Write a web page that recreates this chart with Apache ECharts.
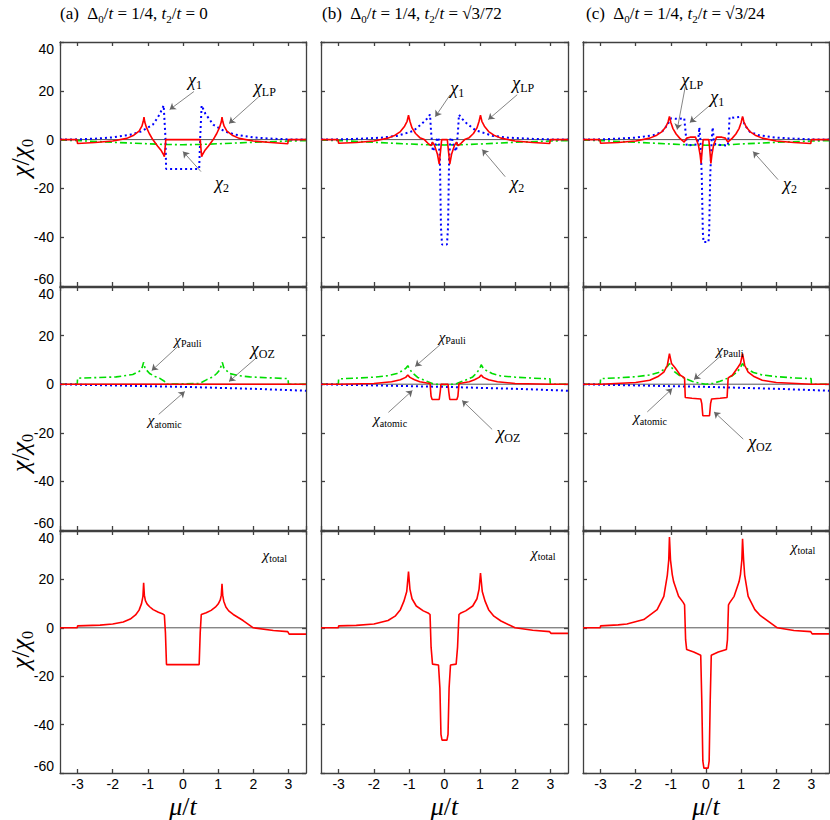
<!DOCTYPE html>
<html lang="en">
<head>
<meta charset="UTF-8">
<title>Susceptibility panels</title>
<script src="https://cdn.jsdelivr.net/npm/echarts/dist/echarts.min.js"></script>
<style>
  html, body { margin: 0; padding: 0; background: #fff; }
  #main { width: 830px; height: 820px; }
</style>
</head>
<body>
<div id="main"></div>
<script>
// ---- data: [mu/t, chi/chi0] ----
var zeroLine = [[-3.5, 0], [3.5, 0]];

// top row: chi_LP (red), chi_1 (blue), chi_2 (green)
var lpA = [[-3.5,0],[-3.02,0],[-3,-1.6],[-2.5,-1.2],[-2,-0.6],[-1.6,0.5],[-1.4,1.8],[-1.25,3.5],[-1.17,5.5],[-1.13,7.5],[-1.11,9.2],[-1.09,7.3],[-1.04,5],[-0.96,2.5],[-0.86,0],[-0.72,-2.7],[-0.62,-4.5],[-0.56,-6],[-0.53,-7],[-0.51,-3.5],[-0.49,0],
           [0.49,0],[0.51,-3.5],[0.53,-7],[0.56,-6],[0.62,-4.5],[0.72,-2.7],[0.86,0],[0.96,2.5],[1.04,5],[1.09,7.3],[1.11,9.2],[1.13,7.5],[1.17,5.5],[1.25,3.5],[1.4,1.8],[1.6,0.5],[2,-0.6],[2.5,-1.2],[2.98,-1.7],[3,0],[3.5,0]];
var c1A = [[-3.5,0],[-3,0.1],[-2.5,0.4],[-2,0.9],[-1.5,2],[-1.2,3.3],[-1.06,4.4],[-0.86,6.1],[-0.76,8.2],[-0.66,10.5],[-0.55,14],[-0.5,1],[-0.48,-12],
           [0.46,-12],[0.49,1],[0.53,14],[0.64,10.5],[0.76,8.2],[0.86,6.1],[1.06,4.4],[1.2,3.3],[1.5,2],[2,0.9],[2.5,0.4],[3,0.1],[3.5,0]];
var c2A = [[-3.5,-0.2],[-3,-0.4],[-2,-1.1],[-1,-1.7],[-0.5,-2],[0,-2.1],[0.5,-2],[1,-1.7],[2,-1.1],[3,-0.6],[3.5,-0.4]];

var lpB = [[-3.5,0],[-3.02,0],[-3,-1.5],[-2.5,-1.2],[-2,-0.6],[-1.6,0.6],[-1.4,1.8],[-1.25,3.3],[-1.13,5.5],[-1.06,7.5],[-1.02,10],[-0.98,7.5],[-0.92,4.8],[-0.82,2.5],[-0.7,0.8],[-0.57,0],[-0.45,-1.8],[-0.38,-2.5],[-0.34,-1],[-0.28,-2.5],[-0.2,-6],[-0.15,-10],[-0.1,-3],[-0.08,0],
           [0.08,0],[0.1,-3],[0.15,-10],[0.2,-6],[0.28,-2.5],[0.34,-1],[0.38,-2.5],[0.45,-1.8],[0.57,0],[0.7,0.8],[0.82,2.5],[0.92,4.8],[0.98,7.5],[1.02,10],[1.06,7.5],[1.13,5.5],[1.25,3.3],[1.4,1.8],[1.6,0.6],[2,-0.6],[2.5,-1.2],[2.98,-1.6],[3,0],[3.5,0]];
var c1B = [[-3.5,0],[-3,0.1],[-2.5,0.3],[-1.8,0.8],[-1.35,1.5],[-1,3],[-0.88,3.6],[-0.64,6.5],[-0.5,8.5],[-0.41,10.3],[-0.38,3],[-0.33,-4.8],[-0.27,-3],[-0.21,0.5],[-0.17,0.8],[-0.13,-8],[-0.1,-36],[-0.07,-43],
           [0.07,-43],[0.1,-36],[0.13,-8],[0.17,0.8],[0.21,0.5],[0.27,-3],[0.33,-4.8],[0.38,3],[0.41,10.2],[0.5,8.5],[0.64,6.5],[0.88,3.8],[1,3.3],[1.35,1.6],[1.8,0.8],[2.5,0.3],[3,0.1],[3.5,0]];
var c2B = [[-3.5,-0.2],[-3,-0.4],[-2,-1.1],[-1,-1.8],[-0.5,-2.1],[0,-2.2],[0.5,-2.1],[1,-1.8],[2,-1.1],[3,-0.6],[3.5,-0.4]];

var lpC = [[-3.5,0],[-3.02,0],[-3,-1.5],[-2.5,-1.2],[-2,-0.6],[-1.6,0.6],[-1.4,1.8],[-1.25,3.3],[-1.14,5.3],[-1.08,7.2],[-1.04,9.5],[-1,7],[-0.94,4.5],[-0.85,2.3],[-0.75,0.6],[-0.62,-1],[-0.55,0.6],[-0.45,1],[-0.3,1],[-0.22,-2],[-0.17,-6],[-0.14,-9.8],[-0.1,-3],[-0.08,0],
           [0.08,0],[0.1,-3],[0.14,-9.8],[0.17,-6],[0.22,-2],[0.3,1],[0.45,1],[0.55,0.6],[0.62,-1],[0.75,0.6],[0.85,2.3],[0.94,4.5],[1,7],[1.04,9.5],[1.08,7.2],[1.14,5.3],[1.25,3.3],[1.4,1.8],[1.6,0.6],[2,-0.6],[2.5,-1.2],[2.98,-1.6],[3,0],[3.5,0]];
var c1C = [[-3.5,0],[-3,0.1],[-2.5,0.4],[-2,0.8],[-1.5,1.8],[-1.25,3.2],[-1.1,6],[-1,8.7],[-0.8,8.5],[-0.62,8.8],[-0.58,3],[-0.55,-2.5],[-0.4,-2.2],[-0.27,-2],[-0.22,0],[-0.19,5],[-0.16,0],[-0.12,-15],[-0.09,-38],[-0.07,-42],
           [0.07,-42],[0.09,-38],[0.12,-15],[0.16,0],[0.19,5],[0.22,0],[0.27,-2],[0.4,-2.2],[0.62,-2.5],[0.65,3],[0.67,9.2],[0.8,9],[0.97,9.3],[1.04,8.8],[1.1,6],[1.25,3.2],[1.5,1.8],[2,0.8],[2.5,0.4],[3,0.1],[3.5,0]];
var c2C = [[-3.5,-0.2],[-3,-0.4],[-2,-1.1],[-1,-1.8],[-0.5,-2.2],[0,-2.3],[0.5,-2.2],[1,-1.8],[2,-1.1],[3,-0.6],[3.5,-0.4]];

// middle row: chi_Pauli (green), chi_atomic (blue), chi_OZ (red)
var atomic = [[-3.5,0],[-3,-0.2],[-2,-0.5],[-1,-0.8],[0,-1.1],[1,-1.5],[2,-1.9],[3,-2.4],[3.5,-2.7]];

var pauliA = [[-3.5,0],[-3.01,0],[-3,2.5],[-2.5,2.7],[-1.9,3],[-1.43,4],[-1.24,5.3],[-1.16,7],[-1.12,9],[-1.08,6.5],[-0.95,4.4],[-0.8,3.2],[-0.67,2.5],[-0.53,1.2],[-0.49,0],
              [0.48,0.3],[0.55,0.9],[0.68,1.9],[0.85,3],[0.96,4.4],[1.05,6],[1.12,9],[1.16,6.8],[1.32,4.4],[1.6,3.5],[1.9,3],[2.5,2.6],[2.99,2.3],[3,0],[3.5,0]];
var ozA = [[-3.5,0],[3.5,0]];

var pauliB = [[-3.5,0],[-3.01,0],[-3,2.2],[-2.5,2.5],[-2,2.9],[-1.6,3.5],[-1.35,4.4],[-1.2,5.5],[-1.1,6.5],[-1.04,7.6],[-1,6.5],[-0.92,4.8],[-0.76,2.8],[-0.6,1.8],[-0.4,0.6],[-0.3,0],[0,-0.2],
              [0.3,0],[0.4,0.6],[0.64,1.9],[0.8,3],[0.92,4.8],[1,6.5],[1.04,8],[1.1,6.5],[1.2,5.5],[1.35,4.4],[1.6,3.4],[2,2.9],[2.5,2.5],[2.99,2.2],[3,0],[3.5,0]];
var ozB = [[-3.5,0],[-3,0],[-2,0.3],[-1.5,1],[-1.25,1.8],[-1.1,2.8],[-1.04,3.8],[-0.98,2.8],[-0.85,1.8],[-0.7,1],[-0.5,0.5],[-0.41,0.3],[-0.38,-5],[-0.35,-6.3],[-0.15,-6.3],[-0.12,-3],[-0.1,0],
           [0.1,0],[0.12,-3],[0.15,-6.3],[0.35,-6.3],[0.38,-5],[0.41,0.3],[0.5,0.5],[0.7,1],[0.85,1.8],[0.98,2.8],[1.04,3.8],[1.1,2.8],[1.25,1.8],[1.5,1],[2,0.3],[3,0],[3.5,0]];

var pauliC = [[-3.5,0],[-3.01,0],[-3,2.3],[-2.5,2.6],[-2,3.1],[-1.6,3.8],[-1.35,4.8],[-1.2,6],[-1.1,7.3],[-1.04,8.5],[-0.98,7],[-0.9,5.2],[-0.75,3.5],[-0.6,2.4],[-0.4,1.2],[-0.2,0.4],[0,0],
              [0.2,0.4],[0.4,1.2],[0.6,2.4],[0.75,3.5],[0.9,5.2],[0.98,7],[1.04,8.5],[1.1,7.3],[1.2,6],[1.35,4.8],[1.6,3.8],[2,3.1],[2.5,2.6],[2.99,2.3],[3,0],[3.5,0]];
var ozC = [[-3.5,0],[-3,0],[-2,0.7],[-1.6,1.6],[-1.35,3.3],[-1.2,5],[-1.1,7.8],[-1.04,12.6],[-0.98,8.5],[-0.88,6.8],[-0.73,3.7],[-0.65,3],[-0.61,2.5],[-0.59,-5.5],[-0.4,-5.8],[-0.15,-6.1],[-0.12,-8],[-0.09,-13],
           [0.1,-13],[0.13,-8],[0.16,-6.1],[0.4,-5.8],[0.6,-5.5],[0.63,2.5],[0.67,3],[0.75,3.7],[0.9,6.8],[0.98,8.5],[1.04,12.6],[1.1,7.8],[1.2,5],[1.35,3.3],[1.6,1.6],[2,0.7],[3,0],[3.5,0]];

// bottom row: chi_total (red)
var totalA = [[-3.5,0],[-3.01,0],[-3,0.8],[-2.36,1.1],[-2,1.6],[-1.7,2.4],[-1.5,3.6],[-1.35,5.3],[-1.25,7.3],[-1.18,10],[-1.14,13],[-1.12,18.6],[-1.1,13.5],[-1.07,11.2],[-1.02,9.8],[-0.95,8.7],[-0.85,7.5],[-0.7,6.4],[-0.57,5.7],[-0.53,5.2],[-0.5,-2],[-0.47,-15.2],
              [0.46,-15.2],[0.49,-2],[0.52,5.5],[0.66,6.2],[0.8,7.2],[0.92,8.5],[1.0,9.8],[1.06,11.5],[1.09,13.5],[1.11,18.2],[1.13,13.5],[1.16,11],[1.22,8.6],[1.3,7],[1.43,5.5],[1.71,3],[2,0],[2.57,-1.1],[2.98,-1.6],[3.02,-2.6],[3.5,-2.6]];
var totalB = [[-3.5,0],[-3.01,0],[-3,0.8],[-2.5,1],[-2,1.6],[-1.6,3],[-1.4,4.8],[-1.25,7.5],[-1.15,11],[-1.07,15],[-1.02,23.2],[-0.98,16],[-0.92,12],[-0.8,9],[-0.6,7],[-0.45,6],[-0.41,5.5],[-0.38,-8],[-0.34,-15],[-0.17,-15.4],[-0.13,-25],[-0.1,-44],[-0.07,-46.4],
              [0.07,-46.4],[0.1,-44],[0.13,-25],[0.17,-15.4],[0.33,-15],[0.37,-8],[0.41,5.5],[0.45,6],[0.6,7],[0.8,9],[0.92,12],[0.98,16],[1.02,22.6],[1.07,15],[1.15,11],[1.25,7.5],[1.4,4.8],[1.6,2.8],[2,0],[2.5,-1],[2.98,-1.6],[3.02,-2.3],[3.5,-2.3]];
var totalC = [[-3.5,0],[-3.01,0],[-3,0.8],[-2.5,1.2],[-2.25,1.6],[-1.77,3.4],[-1.39,7.5],[-1.2,13],[-1.1,21.8],[-1.06,28],[-1.04,37.5],[-1.01,28],[-0.96,22],[-0.92,19],[-0.78,13],[-0.65,10.5],[-0.61,9.5],[-0.58,-5],[-0.55,-9],[-0.35,-10],[-0.15,-11.3],[-0.12,-30],[-0.09,-55],[-0.06,-58],
              [0.06,-58],[0.09,-55],[0.12,-30],[0.15,-11.3],[0.35,-10],[0.58,-9],[0.61,-5],[0.64,9.5],[0.68,10.5],[0.8,13],[0.94,19],[0.98,22],[1.02,28],[1.04,36.8],[1.07,28],[1.1,21.8],[1.2,13],[1.39,7.5],[1.55,5],[2.03,0],[2.5,-1.1],[2.98,-1.6],[3.02,-2.5],[3.5,-2.5]];

var xTicksMin = -3.5, xTicksMax = 3.5;
var yMin = -60, yMax = 40, yStep = 20;

// ---- layout ----
var serif = "'Liberation Serif', 'DejaVu Serif', serif";
var sans = "'Liberation Sans', Arial, sans-serif";
var cols = [{left: 60, width: 246}, {left: 321, width: 247}, {left: 583, width: 246}];
var rows = [{top: 42, height: 244}, {top: 287, height: 243}, {top: 531, height: 245}];

var styles = {
  red: {color: '#ff0000', width: 1.6, type: 'solid'},
  blue: {color: '#0000ff', width: 2, type: [2, 3]},
  green: {color: '#00dd00', width: 1.6, type: [7, 3, 2, 3]}
};

var chiRich = {
  x: {fontFamily: serif, fontStyle: 'italic', fontSize: 18, lineHeight: 22, verticalAlign: 'middle', color: '#000'},
  s: {fontFamily: serif, fontSize: 12, lineHeight: 22, verticalAlign: 'bottom', color: '#000'},
  xs: {fontFamily: serif, fontStyle: 'italic', fontSize: 15, lineHeight: 18, verticalAlign: 'middle', color: '#000'},
  ss: {fontFamily: serif, fontSize: 10, lineHeight: 18, verticalAlign: 'bottom', color: '#000'}
};

var L1 = '{x|χ}{s|1}', L2 = '{x|χ}{s|2}', LLP = '{x|χ}{s|LP}', LOZ = '{x|χ}{s|OZ}';
var LPauli = '{xs|χ}{ss|Pauli}', LAtomic = '{xs|χ}{ss|atomic}', LTotal = '{xs|χ}{ss|total}';

// annotation: label position, arrow start, arrow tip (data coords)
var panels = [
  {row: 0, col: 0, curves: [[c2A, 'green'], [c1A, 'blue'], [lpA, 'red']],
   notes: [[L1, [0.34, 24.6], [0.31, 19.7], [-0.38, 12.3]], [LLP, [2.33, 21.7], [2.16, 17.6], [1.31, 6.6]], [L2, [1.11, -17.6], [0.51, -13.1], [0.0, -4.9]]]},
  {row: 0, col: 1, curves: [[c2B, 'green'], [c1B, 'blue'], [lpB, 'red']],
   notes: [[L1, [0.36, 21.3], [0.16, 18.4], [-0.26, 9.4]], [LLP, [2.23, 23.4], [2.06, 18.4], [1.24, 8.2]], [L2, [2.06, -17.6], [1.72, -15.2], [1.07, -4.1]]]},
  {row: 0, col: 2, curves: [[c2C, 'green'], [c1C, 'blue'], [lpC, 'red']],
   notes: [[LLP, [-0.39, 24.6], [-0.59, 21.7], [-0.82, 4.1]], [L1, [0.32, 17.6], [0.17, 14.8], [-0.46, 7.0]], [L2, [2.39, -18.4], [2.05, -16.4], [1.34, -4.9]]]},
  {row: 1, col: 0, curves: [[pauliA, 'green'], [atomic, 'blue'], [ozA, 'red']],
   notes: [[LPauli, [0.14, 18.3], [-0.15, 15.5], [-0.89, 5.6]], [LOZ, [2.27, 14.6], [2.13, 11.4], [1.31, 1.1]], [LAtomic, [-0.52, -14.9], [-0.69, -12.4], [0.05, -3.0]]]},
  {row: 1, col: 1, curves: [[pauliB, 'green'], [atomic, 'blue'], [ozB, 'red']],
   notes: [[LPauli, [0.22, 19.5], [-0.12, 16.3], [-0.83, 7.3]], [LAtomic, [-1.54, -14.5], [-1.59, -11.6], [-0.91, -2.6]], [LOZ, [1.81, -20.2], [1.35, -18.6], [0.5, -6.7]]]},
  {row: 1, col: 2, curves: [[pauliC, 'green'], [atomic, 'blue'], [ozC, 'red']],
   notes: [[LPauli, [0.68, 14.2], [0.46, 12.2], [-0.34, 1.9]], [LAtomic, [-1.59, -13.6], [-1.67, -11.4], [-0.96, -1.8]], [LOZ, [1.54, -23.9], [1.06, -22.6], [0.23, -11.4]]]},
  {row: 2, col: 0, curves: [[totalA, 'red']], notes: [[LTotal, [2.61, 30.2]]]},
  {row: 2, col: 1, curves: [[totalB, 'red']], notes: [[LTotal, [2.8, 31]]]},
  {row: 2, col: 2, curves: [[totalC, 'red']], notes: [[LTotal, [2.76, 33.5]]]}
];

var frame = {color: '#404040', width: 1.3};

function makeX(i, pos, labels, withName) {
  return {
    type: 'value', gridIndex: i, position: pos, min: xTicksMin, max: xTicksMax,
    axisLine: {show: true, onZero: false, lineStyle: frame},
    axisTick: {show: true, inside: true, length: 4, lineStyle: frame},
    axisLabel: {show: labels, margin: 4, showMinLabel: false, showMaxLabel: false,
                fontFamily: sans, fontSize: 14, color: '#000'},
    splitLine: {show: false},
    name: withName ? '{i|μ}{n|/}{i|t}' : '',
    nameLocation: 'middle', nameGap: 20,
    nameTextStyle: {rich: {
      i: {fontFamily: serif, fontStyle: 'italic', fontSize: 26, color: '#000'},
      n: {fontFamily: serif, fontSize: 26, color: '#000'}
    }}
  };
}

function makeY(i, pos, labels) {
  return {
    type: 'value', gridIndex: i, position: pos, min: yMin, max: yMax, interval: yStep,
    axisLine: {show: true, onZero: false, lineStyle: frame},
    axisTick: {show: true, inside: true, length: 4, lineStyle: frame},
    axisLabel: {show: labels, margin: 6, fontFamily: sans, fontSize: 14, color: '#000',
                verticalAlignMaxLabel: 'top', verticalAlignMinLabel: 'bottom'},
    splitLine: {show: false}
  };
}

var grid = [], xAxis = [], yAxis = [], series = [];
panels.forEach(function (p, i) {
  grid.push({left: cols[p.col].left, width: cols[p.col].width, top: rows[p.row].top, height: rows[p.row].height, containLabel: false});
  xAxis.push(makeX(i, 'bottom', p.row === 2, p.row === 2), makeX(i, 'top', false, false));
  yAxis.push(makeY(i, 'left', p.col === 0), makeY(i, 'right', false));

  var arrows = [], labels = [];
  p.notes.forEach(function (n) {
    labels.push({coord: n[1], label: {formatter: n[0]}});
    if (n[2]) arrows.push([{coord: n[2]}, {coord: n[3]}]);
  });

  series.push({
    type: 'line', xAxisIndex: 2 * i, yAxisIndex: 2 * i, data: zeroLine, z: 1,
    symbol: 'none', silent: true, animation: false,
    lineStyle: {color: '#555', width: 1},
    markLine: {silent: true, animation: false, symbol: ['none', 'arrow'], symbolSize: 6,
               label: {show: false}, lineStyle: {color: '#666', width: 0.8, type: 'solid'},
               emphasis: {disabled: true}, data: arrows},
    markPoint: {silent: true, animation: false, symbol: 'circle', symbolSize: 1,
                itemStyle: {color: 'rgba(0,0,0,0)'},
                label: {show: true, position: 'inside', rich: chiRich},
                data: labels}
  });

  p.curves.forEach(function (c) {
    series.push({
      type: 'line', xAxisIndex: 2 * i, yAxisIndex: 2 * i, data: c[0], z: 2,
      symbol: 'none', showSymbol: false, silent: true, animation: false,
      lineStyle: styles[c[1]]
    });
  });
});

var titleRich = {
  n: {fontFamily: serif, fontSize: 17, lineHeight: 22, verticalAlign: 'middle', color: '#000'},
  i: {fontFamily: serif, fontSize: 17, fontStyle: 'italic', lineHeight: 22, verticalAlign: 'middle', color: '#000'},
  s: {fontFamily: serif, fontSize: 11, lineHeight: 22, verticalAlign: 'bottom', color: '#000'}
};
var titleBody = '{n|Δ}{s|0}{n|/}{i|t}{n| = 1/4, }{i|t}{s|2}{n|/}{i|t}{n| = ';
var titles = [
  {text: '{n|(a)  }' + titleBody + '0}', left: 60},
  {text: '{n|(b)  }' + titleBody + '√3/72}', left: 322},
  {text: '{n|(c)  }' + titleBody + '√3/24}', left: 586}
].map(function (t) {
  return {text: t.text, left: t.left, top: 2, padding: 0,
          textStyle: {fontFamily: serif, fontSize: 17, fontWeight: 'normal', color: '#000', rich: titleRich}};
});

var axisNameRich = {
  c: {fontFamily: serif, fontStyle: 'italic', fontSize: 26, lineHeight: 30, verticalAlign: 'middle', fill: '#000'},
  n: {fontFamily: serif, fontSize: 26, lineHeight: 30, verticalAlign: 'middle', fill: '#000'},
  s: {fontFamily: serif, fontSize: 16, lineHeight: 30, verticalAlign: 'bottom', fill: '#000'}
};
var graphic = [158, 453, 650].map(function (y) {
  return {
    type: 'text', x: 20, y: y, rotation: Math.PI / 2, silent: true,
    style: {text: '{c|χ}{n|/}{c|χ}{s|0}', rich: axisNameRich, align: 'center', verticalAlign: 'middle'}
  };
});

var chart = echarts.init(document.getElementById('main'), null, {renderer: 'svg'});
chart.setOption({
  animation: false,
  backgroundColor: '#fff',
  title: titles,
  grid: grid,
  xAxis: xAxis,
  yAxis: yAxis,
  series: series,
  graphic: graphic
});
</script>
</body>
</html>
